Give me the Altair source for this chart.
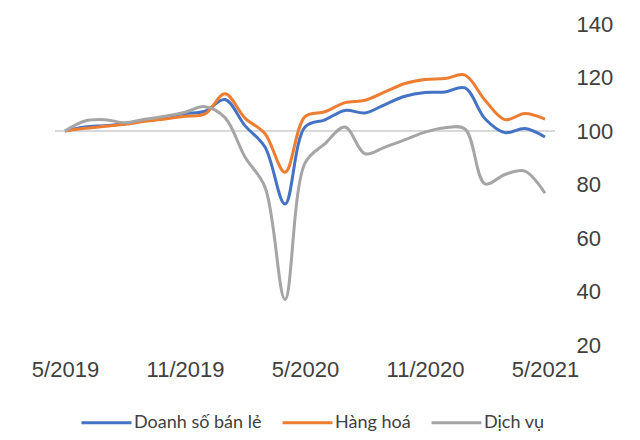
import altair as alt
import pandas as pd

months = ["5/2019", "6/2019", "7/2019", "8/2019", "9/2019", "10/2019", "11/2019",
          "12/2019", "1/2020", "2/2020", "3/2020", "4/2020", "5/2020", "6/2020",
          "7/2020", "8/2020", "9/2020", "10/2020", "11/2020", "12/2020", "1/2021",
          "2/2021", "3/2021", "4/2021", "5/2021"]

retail = [100, 101.5, 102, 102.75, 104, 105.25, 106.5, 107.4, 111.75, 102, 94, 72.7,
          101.5, 104.2, 107.7, 106.75, 109.9, 113, 114.4, 114.6, 116.1, 104.6, 99.4, 100.9, 97.75]
goods = [100, 101, 101.8, 102.5, 103.6, 104.5, 105.5, 106.4, 113.9, 104.8, 99, 84.6,
         105.4, 107.2, 110.6, 111.5, 114.6, 117.75, 119.25, 119.6, 120.9, 111.5, 104.25, 106.5, 104.4]
services = [100, 103.75, 104.25, 103.1, 104.4, 105.5, 107, 109.1, 105, 90.25, 79, 37,
            88, 95.3, 101.5, 91.5, 94, 96.75, 99.6, 101.25, 100.75, 80.25, 83.75, 85, 76.75]

series_names = ["Doanh số bán lẻ", "Hàng hoá", "Dịch vụ"]
series_colors = ["#4472C4", "#ED7D31", "#A5A5A5"]
x_labels = ["5/2019", "11/2019", "5/2020", "11/2020", "5/2021"]
y_ticks = [20, 40, 60, 80, 100, 120, 140]
baseline = [100]

rows = []
for k, (name, vals) in enumerate(zip(series_names, [retail, goods, services])):
    for m, v in zip(months, vals):
        rows.append({"month": m, "value": v, "series": name, "order": k})
df = pd.DataFrame(rows)

x_enc = alt.X("month:O", sort=months,
              scale=alt.Scale(type="point", padding=0.5),
              axis=alt.Axis(values=x_labels, labelAngle=0, domain=False, ticks=False,
                            labelFont="Liberation Sans", labelFontSize=22,
                            labelColor="#404040", labelPadding=14, title=None))

y_scale = alt.Scale(domain=[20, 140], nice=False, zero=False)

rule = alt.Chart(pd.DataFrame({"y": baseline})).mark_rule(
    color="#D9D9D9", strokeWidth=2
).encode(y=alt.Y("y:Q", scale=y_scale))

lines = alt.Chart(df).mark_line(strokeWidth=3, interpolate="catmull-rom").encode(
    x=x_enc,
    y=alt.Y("value:Q", scale=y_scale,
            axis=alt.Axis(orient="right", values=y_ticks, grid=False, domain=False,
                          ticks=False, labelFont="Liberation Sans", labelFontSize=22,
                          labelColor="#404040", labelPadding=21, labelAlign="left",
                          labelBaseline="middle", title=None)),
    color=alt.Color("series:N", sort=series_names,
                    scale=alt.Scale(domain=series_names, range=series_colors),
                    legend=alt.Legend(title=None, orient="none", direction="horizontal",
                                      legendX=25, legendY=372,
                                      symbolType="stroke", symbolSize=2500,
                                      symbolStrokeWidth=3, labelFont="Lato",
                                      labelFontSize=18, labelColor="#404040",
                                      labelOffset=1, columnPadding=14)),
    order=alt.Order("order:Q"),
    detail="series:N",
)

chart = alt.layer(rule, lines).properties(
    width=500, height=321,
    background="white",
    autosize=alt.AutoSizeParams(type="none"),
    padding={"left": 55, "top": 24, "right": 85, "bottom": 95},
).configure_view(stroke=None, strokeWidth=0)

chart.save("out.html", embed_options={"renderer": "svg", "actions": False})
